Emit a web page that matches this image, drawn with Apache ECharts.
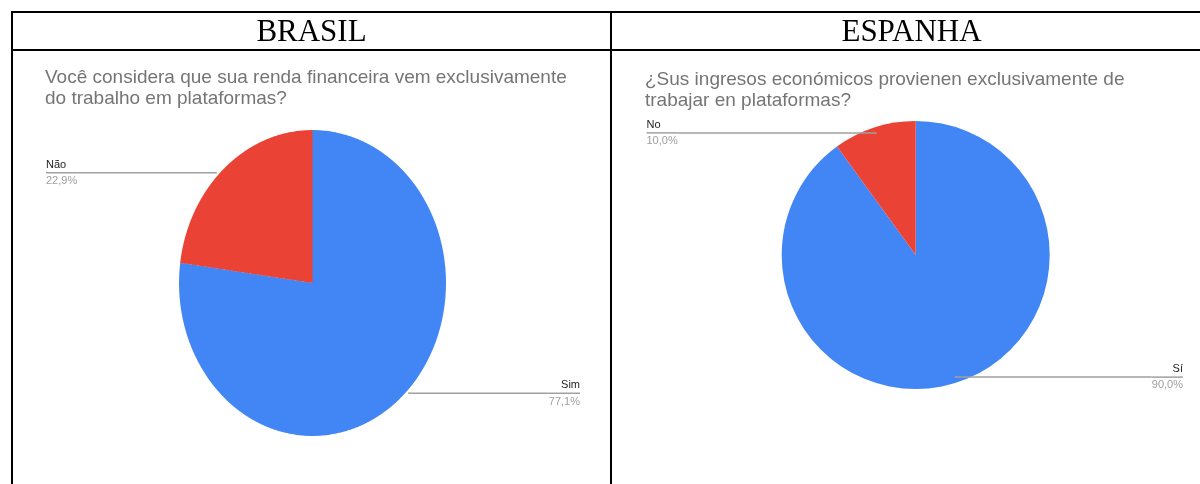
<!DOCTYPE html>
<html>
<head>
<meta charset="utf-8">
<script src="https://cdn.jsdelivr.net/npm/echarts@6/dist/echarts.min.js"></script>
<style>
  html, body { margin: 0; padding: 0; background: #fff; }
  #wrap { position: relative; width: 1200px; height: 484px; overflow: hidden; background: #fff; }
  /* the Brazilian pie is drawn as an upright ellipse */
  #brPie { position: absolute; left: 0; top: 0; width: 1200px; height: 484px;
           transform-origin: 312.5px 283px; transform: scaleY(1.146); }
  #main { position: absolute; left: 0; top: 0; width: 1200px; height: 484px; }
</style>
</head>
<body>
<div id="wrap"><div id="brPie"></div><div id="main"></div></div>
<script>
// Survey answers (percent of respondents)
const brCategories = ['Sim', 'Não'];
const brValues = [77.1, 22.9];
const esCategories = ['Sí', 'No'];
const esValues = [90.0, 10.0];

const headers = ['BRASIL', 'ESPANHA'];
const brQuestion = 'Você considera que sua renda financeira vem exclusivamente\ndo trabalho em plataformas?';
const esQuestion = '¿Sus ingresos económicos provienen exclusivamente de\ntrabajar en plataformas?';

const sliceColors = ['#4285f4', '#ea4335'];
const SANS = '"Liberation Sans", Arial, Helvetica, sans-serif';
const SERIF = '"Liberation Serif", "Times New Roman", serif';
const LINE_GRAY = '#a0a0a0';

function pieData(cats, vals) {
  return cats.map((c, i) => ({ name: c, value: vals[i], itemStyle: { color: sliceColors[i] } }));
}

// slices whose middle falls in the first half (clockwise from 12 o'clock) get their label on the right
function labelSides(vals) {
  const total = vals.reduce((a, b) => a + b, 0);
  let acc = 0;
  return vals.map(v => { const mid = (acc + v / 2) / total; acc += v; return mid < 0.5 ? 'r' : 'l'; });
}

function labelData(cats, vals) {
  const sides = labelSides(vals);
  return cats.map((c, i) => ({
    name: c,
    value: vals[i],
    label: {
      formatter: p => '{n' + sides[i] + '|' + p.name + '}\n{rule| }\n{p' + sides[i] + '|' +
        p.percent.toFixed(1).replace('.', ',') + '%}'
    }
  }));
}

const rich = {
  nl: { fontFamily: SANS, fontSize: 11, color: '#222', lineHeight: 15, align: 'left' },
  nr: { fontFamily: SANS, fontSize: 11, color: '#222', lineHeight: 15, align: 'right' },
  pl: { fontFamily: SANS, fontSize: 11, color: '#9e9e9e', lineHeight: 15, align: 'left' },
  pr: { fontFamily: SANS, fontSize: 11, color: '#9e9e9e', lineHeight: 15, align: 'right' },
  rule: { width: '100%', height: 1.5, lineHeight: 1.5, fontSize: 1, backgroundColor: LINE_GRAY }
};

// invisible ring that only carries the callout labels
function labelSeries(cats, vals, box, center, radius) {
  return {
    type: 'pie', silent: true, animation: false,
    left: box[0], top: 0, width: box[1], height: 484,
    center: center, radius: radius,
    startAngle: 90, clockwise: true,
    data: labelData(cats, vals),
    itemStyle: { color: 'rgba(0,0,0,0)' },
    label: { show: true, position: 'outside', alignTo: 'edge', edgeDistance: 0,
             distanceToLabelLine: 0, rich: rich },
    labelLine: { show: true, length: 1, length2: 10, smooth: false,
                 lineStyle: { color: LINE_GRAY, width: 1.5 } },
    emphasis: { disabled: true }, z: 5
  };
}

// Brazilian pie (stretched vertically by CSS)
const brChart = echarts.init(document.getElementById('brPie'), null, { renderer: 'canvas', devicePixelRatio: 2 });
brChart.setOption({
  animation: false,
  series: [{
    type: 'pie', silent: true,
    center: [312.5, 283], radius: 133.5,
    startAngle: 90, clockwise: true,
    data: pieData(brCategories, brValues),
    label: { show: false }, labelLine: { show: false },
    emphasis: { disabled: true }
  }]
});

// Table, headings, Spanish pie and all callouts
const main = echarts.init(document.getElementById('main'), null, { renderer: 'canvas' });
const border = { stroke: '#000', lineWidth: 2 };
main.setOption({
  animation: false,
  backgroundColor: 'transparent',
  title: [
    { text: headers[0], left: 311.5, top: 17, padding: 0, textAlign: 'center',
      textStyle: { fontFamily: SERIF, fontSize: 31, fontWeight: 'normal', color: '#000' } },
    { text: headers[1], left: 911.5, top: 17, padding: 0, textAlign: 'center',
      textStyle: { fontFamily: SERIF, fontSize: 31, fontWeight: 'normal', color: '#000' } },
    { text: brQuestion, left: 45, top: 67, padding: 0,
      textStyle: { fontFamily: SANS, fontSize: 19, fontWeight: 'normal', color: '#757575', lineHeight: 21 } },
    { text: esQuestion, left: 645, top: 69, padding: 0,
      textStyle: { fontFamily: SANS, fontSize: 19, fontWeight: 'normal', color: '#757575', lineHeight: 21 } }
  ],
  graphic: [
    { type: 'line', silent: true, shape: { x1: 11, y1: 12, x2: 1200, y2: 12 }, style: border },
    { type: 'line', silent: true, shape: { x1: 11, y1: 50, x2: 1200, y2: 50 }, style: border },
    { type: 'line', silent: true, shape: { x1: 12, y1: 11, x2: 12, y2: 484 }, style: border },
    { type: 'line', silent: true, shape: { x1: 611, y1: 11, x2: 611, y2: 484 }, style: border }
  ],
  series: [
    {
      type: 'pie', silent: true,
      center: [915.7, 255], radius: 134,
      startAngle: 90, clockwise: true,
      data: pieData(esCategories, esValues),
      label: { show: false }, labelLine: { show: false },
      emphasis: { disabled: true }, z: 2
    },
    labelSeries(brCategories, brValues, [46, 534], [266.5, 283], 145.6),
    labelSeries(esCategories, esValues, [646.5, 536.5], [269.2, 255], 127.4)
  ]
});
</script>
</body>
</html>
